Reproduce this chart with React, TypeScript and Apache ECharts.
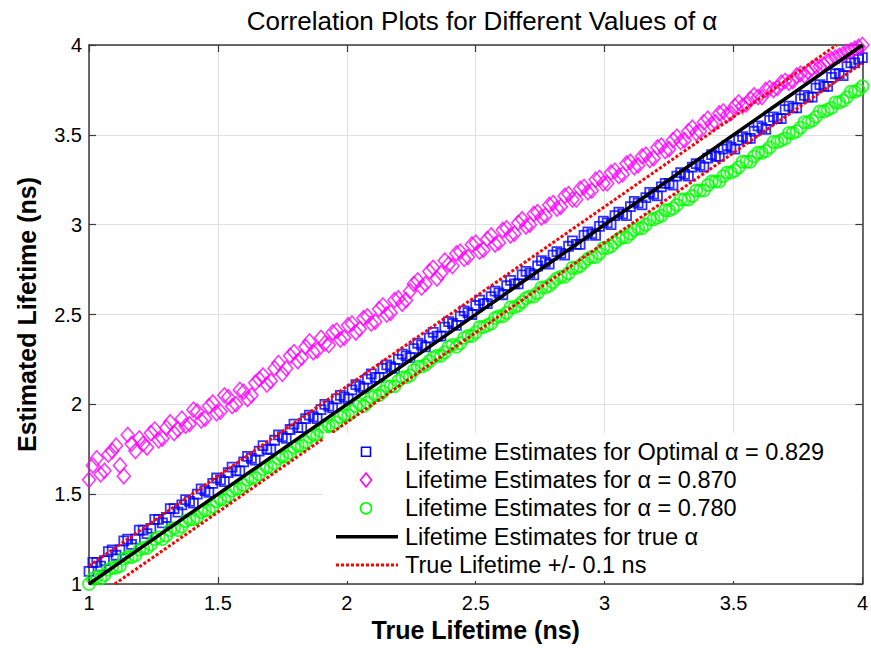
import React, { useEffect, useRef } from "react";
import * as echarts from "echarts";

// True lifetimes (ns) of the simulated samples, batch A
const trueLifetimeA = [
  1.00, 1.03, 1.06, 1.09, 1.12, 1.15, 1.18, 1.21, 1.24, 1.27,
  1.30, 1.33, 1.36, 1.39, 1.42, 1.45, 1.48, 1.51, 1.54, 1.57,
  1.60, 1.63, 1.66, 1.69, 1.72, 1.75, 1.78, 1.81, 1.84, 1.87,
  1.90, 1.93, 1.96, 1.99, 2.02, 2.05, 2.08, 2.11, 2.14, 2.17,
  2.20, 2.23, 2.26, 2.29, 2.32, 2.35, 2.38, 2.41, 2.44, 2.47,
  2.50, 2.53, 2.56, 2.59, 2.62, 2.65, 2.68, 2.71, 2.74, 2.77,
  2.80, 2.83, 2.86, 2.89, 2.92, 2.95, 2.98, 3.01, 3.04, 3.07,
  3.10, 3.13, 3.16, 3.19, 3.22, 3.25, 3.28, 3.31, 3.34, 3.37,
  3.40, 3.43, 3.46, 3.49, 3.52, 3.55, 3.58, 3.61, 3.64, 3.67,
  3.70, 3.73, 3.76, 3.79, 3.82, 3.85, 3.88, 3.91, 3.94, 3.97,
  4.00,
];

// Batch B true lifetimes
const trueLifetimeB = [
  1.015, 1.045, 1.075, 1.105, 1.135, 1.165, 1.195, 1.225, 1.255, 1.285,
  1.315, 1.345, 1.375, 1.405, 1.435, 1.465, 1.495, 1.525, 1.555, 1.585,
  1.615, 1.645, 1.675, 1.705, 1.735, 1.765, 1.795, 1.825, 1.855, 1.885,
  1.915, 1.945, 1.975, 2.005, 2.035, 2.065, 2.095, 2.125, 2.155, 2.185,
  2.215, 2.245, 2.275, 2.305, 2.335, 2.365, 2.395, 2.425, 2.455, 2.485,
  2.515, 2.545, 2.575, 2.605, 2.635, 2.665, 2.695, 2.725, 2.755, 2.785,
  2.815, 2.845, 2.875, 2.905, 2.935, 2.965, 2.995, 3.025, 3.055, 3.085,
  3.115, 3.145, 3.175, 3.205, 3.235, 3.265, 3.295, 3.325, 3.355, 3.385,
  3.415, 3.445, 3.475, 3.505, 3.535, 3.565, 3.595, 3.625, 3.655, 3.685,
  3.715, 3.745, 3.775, 3.805, 3.835, 3.865, 3.895, 3.925, 3.955, 3.985,
];

// Estimates for optimal alpha = 0.829 (blue squares)
const estOptimalA = [
  1.07, 1.12, 1.13, 1.19, 1.19, 1.25, 1.25, 1.30, 1.31, 1.36,
  1.37, 1.42, 1.44, 1.46, 1.50, 1.52, 1.56, 1.58, 1.62, 1.63,
  1.68, 1.70, 1.74, 1.75, 1.80, 1.82, 1.86, 1.87, 1.92, 1.93,
  1.97, 1.99, 2.03, 2.04, 2.08, 2.10, 2.14, 2.15, 2.20, 2.21,
  2.25, 2.27, 2.31, 2.33, 2.37, 2.38, 2.43, 2.45, 2.49, 2.51,
  2.55, 2.56, 2.60, 2.62, 2.66, 2.67, 2.72, 2.73, 2.77, 2.79,
  2.83, 2.84, 2.88, 2.89, 2.94, 2.95, 2.99, 3.01, 3.05, 3.06,
  3.10, 3.12, 3.15, 3.17, 3.21, 3.23, 3.27, 3.28, 3.32, 3.33,
  3.37, 3.38, 3.42, 3.43, 3.47, 3.48, 3.52, 3.54, 3.58, 3.59,
  3.64, 3.65, 3.70, 3.71, 3.76, 3.77, 3.82, 3.84, 3.88, 3.90,
  3.93,
];
const estOptimalB = [
  1.12, 1.10, 1.18, 1.16, 1.24, 1.22, 1.30, 1.28, 1.36, 1.34,
  1.42, 1.40, 1.47, 1.45, 1.53, 1.51, 1.59, 1.57, 1.65, 1.63,
  1.71, 1.69, 1.77, 1.75, 1.83, 1.81, 1.89, 1.87, 1.94, 1.92,
  2.00, 1.98, 2.05, 2.03, 2.11, 2.09, 2.17, 2.15, 2.22, 2.20,
  2.28, 2.26, 2.34, 2.32, 2.40, 2.38, 2.46, 2.44, 2.52, 2.50,
  2.58, 2.56, 2.63, 2.61, 2.69, 2.67, 2.74, 2.72, 2.80, 2.78,
  2.85, 2.83, 2.91, 2.89, 2.96, 2.94, 3.02, 3.00, 3.07, 3.05,
  3.13, 3.11, 3.18, 3.16, 3.23, 3.22, 3.29, 3.27, 3.34, 3.32,
  3.39, 3.38, 3.44, 3.42, 3.49, 3.48, 3.55, 3.53, 3.60, 3.59,
  3.66, 3.65, 3.72, 3.71, 3.78, 3.77, 3.84, 3.83, 3.90, 3.92,
];

// Estimates for alpha = 0.870 (magenta diamonds)
const est0870A = [
  1.58, 1.70, 1.63, 1.74, 1.66, 1.83, 1.74, 1.78, 1.84, 1.80,
  1.87, 1.84, 1.92, 1.89, 1.96, 1.92, 2.01, 1.96, 2.04, 2.00,
  2.07, 2.05, 2.14, 2.11, 2.20, 2.17, 2.27, 2.24, 2.32, 2.29,
  2.37, 2.33, 2.41, 2.37, 2.45, 2.42, 2.49, 2.46, 2.55, 2.51,
  2.59, 2.58, 2.67, 2.65, 2.74, 2.70, 2.80, 2.77, 2.85, 2.82,
  2.90, 2.86, 2.94, 2.90, 2.98, 2.95, 3.03, 3.00, 3.07, 3.05,
  3.12, 3.10, 3.17, 3.14, 3.21, 3.19, 3.26, 3.23, 3.30, 3.28,
  3.35, 3.33, 3.39, 3.37, 3.44, 3.42, 3.49, 3.47, 3.54, 3.52,
  3.59, 3.57, 3.63, 3.62, 3.68, 3.67, 3.72, 3.71, 3.76, 3.76,
  3.80, 3.80, 3.84, 3.85, 3.88, 3.89, 3.92, 3.94, 3.96, 3.98,
  4.00,
];
const est0870B = [
  1.66, 1.61, 1.72, 1.77, 1.60, 1.78, 1.81, 1.76, 1.86, 1.81,
  1.90, 1.86, 1.88, 1.97, 1.91, 1.99, 1.95, 2.05, 1.99, 2.08,
  2.03, 2.12, 2.16, 2.13, 2.23, 2.20, 2.29, 2.26, 2.35, 2.30,
  2.34, 2.40, 2.36, 2.44, 2.40, 2.48, 2.45, 2.53, 2.50, 2.58,
  2.56, 2.63, 2.69, 2.67, 2.76, 2.73, 2.78, 2.84, 2.81, 2.89,
  2.85, 2.92, 2.89, 2.97, 2.94, 3.01, 2.99, 3.06, 3.04, 3.11,
  3.09, 3.16, 3.14, 3.20, 3.18, 3.25, 3.23, 3.29, 3.27, 3.34,
  3.32, 3.38, 3.36, 3.43, 3.41, 3.47, 3.46, 3.52, 3.51, 3.57,
  3.56, 3.62, 3.61, 3.66, 3.66, 3.70, 3.71, 3.75, 3.75, 3.79,
  3.79, 3.83, 3.83, 3.87, 3.88, 3.91, 3.93, 3.95, 3.97, 3.99,
];

// Estimates for alpha = 0.780 (green circles)
const est0780A = [
  1.00, 1.04, 1.05, 1.09, 1.10, 1.15, 1.16, 1.20, 1.22, 1.26,
  1.27, 1.31, 1.32, 1.36, 1.37, 1.41, 1.43, 1.47, 1.49, 1.53,
  1.55, 1.59, 1.61, 1.65, 1.67, 1.71, 1.73, 1.77, 1.79, 1.83,
  1.85, 1.88, 1.90, 1.94, 1.96, 2.00, 2.01, 2.05, 2.07, 2.10,
  2.13, 2.15, 2.19, 2.21, 2.24, 2.27, 2.29, 2.33, 2.34, 2.38,
  2.40, 2.43, 2.45, 2.49, 2.51, 2.54, 2.57, 2.60, 2.62, 2.65,
  2.68, 2.71, 2.73, 2.76, 2.79, 2.82, 2.84, 2.87, 2.90, 2.93,
  2.95, 2.98, 3.00, 3.03, 3.05, 3.08, 3.11, 3.14, 3.16, 3.19,
  3.22, 3.24, 3.27, 3.29, 3.32, 3.35, 3.38, 3.40, 3.43, 3.46,
  3.48, 3.51, 3.54, 3.57, 3.60, 3.63, 3.65, 3.68, 3.71, 3.74,
  3.77,
];
const est0780B = [
  1.03, 1.03, 1.08, 1.09, 1.14, 1.15, 1.19, 1.20, 1.25, 1.25,
  1.30, 1.30, 1.35, 1.36, 1.40, 1.41, 1.46, 1.47, 1.52, 1.53,
  1.58, 1.59, 1.64, 1.65, 1.70, 1.71, 1.76, 1.77, 1.82, 1.83,
  1.87, 1.88, 1.93, 1.94, 1.99, 1.99, 2.04, 2.05, 2.10, 2.10,
  2.15, 2.16, 2.21, 2.22, 2.26, 2.27, 2.32, 2.32, 2.37, 2.38,
  2.43, 2.44, 2.48, 2.49, 2.54, 2.55, 2.59, 2.60, 2.65, 2.66,
  2.70, 2.71, 2.76, 2.77, 2.81, 2.82, 2.87, 2.88, 2.92, 2.93,
  2.97, 2.98, 3.03, 3.04, 3.08, 3.09, 3.14, 3.14, 3.19, 3.19,
  3.24, 3.24, 3.29, 3.30, 3.35, 3.35, 3.40, 3.41, 3.46, 3.47,
  3.51, 3.52, 3.57, 3.58, 3.63, 3.64, 3.68, 3.69, 3.74, 3.75,
];

// Reference lines
const identityX = [1, 4];
const identityY = [1, 4];
const upperX = [1, 3.9];
const upperY = [1.1, 4];
const lowerX = [1.1, 4];
const lowerY = [1, 3.9];

const axisTicks = [1, 1.5, 2, 2.5, 3, 3.5, 4];

const seriesNames = [
  "Lifetime Estimates for Optimal \u03b1 = 0.829",
  "Lifetime Estimates for \u03b1 = 0.870",
  "Lifetime Estimates for \u03b1 = 0.780",
  "Lifetime Estimates for true \u03b1",
  "True Lifetime +/- 0.1 ns",
];

const FONT = "'Liberation Sans', Arial, Helvetica, sans-serif";
const BLUE = "#0000ff";
const MAGENTA = "#ff00ff";
const GREEN = "#00ff00";
const RED = "#ff0000";

const pair = (xs: number[], ys: number[]) => xs.map((x, i) => [x, ys[i]]);

export default function App() {
  const ref = useRef<HTMLDivElement>(null);

  useEffect(() => {
    document.body.style.margin = "0";
    if (!ref.current) return;
    const chart = echarts.init(ref.current, null, { renderer: "svg" });

    const valueAxisBase = {
      type: "value" as const,
      min: axisTicks[0],
      max: axisTicks[axisTicks.length - 1],
      interval: 0.5,
    };
    const axisLine = { show: true, onZero: false, lineStyle: { color: "#3a3a3a", width: 1.5 } };
    const axisTick = { show: true, inside: true, length: 7, lineStyle: { color: "#3a3a3a", width: 1.2 } };

    // Legend drawn as graphic elements (MATLAB-style)
    const rowY = [451.7, 480, 508.3, 536.7, 565];
    const iconCx = 366;
    const textX = 405;
    const Z = 100;
    const legendGraphics: any[] = [
      {
        type: "rect",
        z: Z,
        shape: { x: 323, y: 433, width: 539, height: 148 },
        style: { fill: "#ffffff" },
      },
      {
        type: "rect",
        z: Z + 1,
        shape: { x: iconCx - 4.5, y: rowY[0] - 4.5, width: 9, height: 9 },
        style: { fill: "none", stroke: BLUE, lineWidth: 1.6 },
      },
      {
        type: "polygon",
        z: Z + 1,
        shape: {
          points: [
            [iconCx, rowY[1] - 7],
            [iconCx + 5.5, rowY[1]],
            [iconCx, rowY[1] + 7],
            [iconCx - 5.5, rowY[1]],
          ],
        },
        style: { fill: "none", stroke: MAGENTA, lineWidth: 1.6 },
      },
      {
        type: "circle",
        z: Z + 1,
        shape: { cx: iconCx, cy: rowY[2], r: 5.5 },
        style: { fill: "none", stroke: GREEN, lineWidth: 1.6 },
      },
      {
        type: "line",
        z: Z + 1,
        shape: { x1: 336, y1: rowY[3], x2: 398, y2: rowY[3] },
        style: { stroke: "#000000", lineWidth: 3.5 },
      },
      {
        type: "line",
        z: Z + 1,
        shape: { x1: 336, y1: rowY[4], x2: 398, y2: rowY[4] },
        style: { stroke: RED, lineWidth: 3, lineDash: [3, 2] },
      },
      ...seriesNames.map((name, i) => ({
        type: "text",
        z: Z + 1,
        x: textX,
        y: rowY[i],
        style: {
          text: name,
          fontFamily: FONT,
          fontSize: 23.5,
          fill: "#000000",
          verticalAlign: "middle",
          align: "left",
        },
      })),
    ];

    const scatterBase = { type: "scatter", xAxisIndex: 0, yAxisIndex: 0, z: 2 };

    const option = {
      animation: false,
      backgroundColor: "#ffffff",
      textStyle: { fontFamily: FONT },
      title: {
        text: "Correlation Plots for Different Values of \u03b1",
        left: 477,
        top: 3,
        textAlign: "center",
        textStyle: {
          fontFamily: FONT,
          fontSize: 26,
          fontWeight: "normal",
          color: "#000",
        },
      },
      grid: { left: 89, right: 7, top: 45, bottom: 70, containLabel: false },
      xAxis: [
        {
          ...valueAxisBase,
          position: "bottom",
          name: "True Lifetime (ns)",
          nameLocation: "middle",
          nameGap: 33,
          nameTextStyle: { fontFamily: FONT, fontSize: 25, fontWeight: "bold", color: "#000" },
          axisLine,
          axisTick,
          axisLabel: { fontFamily: FONT, fontSize: 20, color: "#000", margin: 9 },
          splitLine: { show: true, lineStyle: { color: "#e0e0e0", width: 1 } },
        },
        {
          ...valueAxisBase,
          position: "top",
          axisLine,
          axisTick,
          axisLabel: { show: false },
          splitLine: { show: false },
        },
      ],
      yAxis: [
        {
          ...valueAxisBase,
          position: "left",
          name: "Estimated Lifetime (ns)",
          nameLocation: "middle",
          nameGap: 50,
          nameRotate: 90,
          nameTextStyle: { fontFamily: FONT, fontSize: 25, fontWeight: "bold", color: "#000" },
          axisLine,
          axisTick,
          axisLabel: { fontFamily: FONT, fontSize: 20, color: "#000", margin: 7 },
          splitLine: { show: true, lineStyle: { color: "#e0e0e0", width: 1 } },
        },
        {
          ...valueAxisBase,
          position: "right",
          axisLine,
          axisTick,
          axisLabel: { show: false },
          splitLine: { show: false },
        },
      ],
      graphic: legendGraphics,
      series: [
        {
          ...scatterBase,
          name: seriesNames[0],
          symbol: "rect",
          symbolSize: 9,
          itemStyle: { color: "rgba(0,0,0,0)", borderColor: BLUE, borderWidth: 1.8 },
          data: [...pair(trueLifetimeA, estOptimalA), ...pair(trueLifetimeB, estOptimalB)],
        },
        {
          ...scatterBase,
          name: seriesNames[1],
          symbol: "diamond",
          symbolSize: [13, 15],
          itemStyle: { color: "rgba(0,0,0,0)", borderColor: MAGENTA, borderWidth: 1.6 },
          data: [...pair(trueLifetimeA, est0870A), ...pair(trueLifetimeB, est0870B)],
        },
        {
          ...scatterBase,
          name: seriesNames[2],
          symbol: "circle",
          symbolSize: 12,
          itemStyle: { color: "rgba(0,0,0,0)", borderColor: GREEN, borderWidth: 1.8 },
          data: [...pair(trueLifetimeA, est0780A), ...pair(trueLifetimeB, est0780B)],
        },
        {
          name: seriesNames[3],
          type: "line",
          xAxisIndex: 0,
          yAxisIndex: 0,
          symbol: "none",
          lineStyle: { color: "#000000", width: 3.5 },
          data: pair(identityX, identityY),
          z: 3,
        },
        {
          name: seriesNames[4],
          type: "line",
          xAxisIndex: 0,
          yAxisIndex: 0,
          symbol: "none",
          lineStyle: { color: RED, width: 3, type: [3, 2] },
          data: pair(upperX, upperY),
          z: 3,
        },
        {
          name: seriesNames[4],
          type: "line",
          xAxisIndex: 0,
          yAxisIndex: 0,
          symbol: "none",
          lineStyle: { color: RED, width: 3, type: [3, 2] },
          data: pair(lowerX, lowerY),
          z: 3,
        },
      ],
    };

    chart.setOption(option as any);
    return () => {
      chart.dispose();
    };
  }, []);

  return (
    <div
      ref={ref}
      style={{ position: "absolute", left: 0, top: 0, width: 871, height: 654 }}
    />
  );
}
